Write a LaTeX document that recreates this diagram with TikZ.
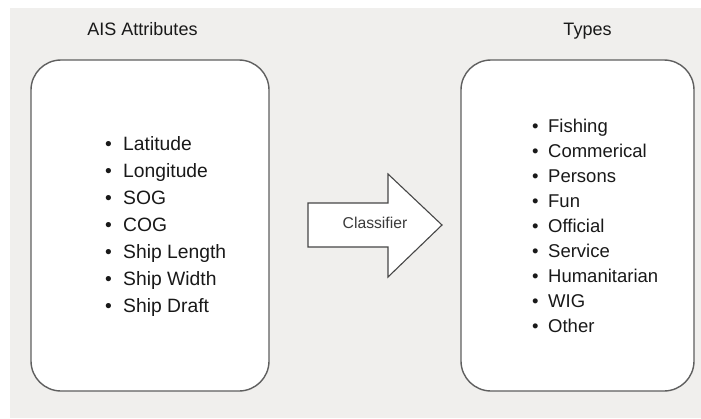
\documentclass[tikz,border=0pt]{standalone}
\usepackage{fontspec}
\setmainfont{Liberation Sans}
\begin{document}
\begin{tikzpicture}[x=1pt,y=-1pt,
  panel/.style={draw=boxline, line width=1.4pt, fill=white, rounded corners=30pt},
  heading/.style={font=\fontsize{18}{20}\selectfont, text=txt, inner sep=0pt, anchor=base},
  item/.style={font=\fontsize{18.5}{22}\selectfont, text=txt, inner sep=0pt, anchor=base west},
  bigitem/.style={item, font=\fontsize{19.3}{22}\selectfont},
  arrowshape/.style={draw=arrline, line width=1.1pt, fill=white, line join=miter}]
\definecolor{bg}{RGB}{240,239,237}
\definecolor{boxline}{RGB}{95,95,95}
\definecolor{arrline}{RGB}{70,70,70}
\definecolor{txt}{RGB}{25,25,25}
\useasboundingbox (0,0) rectangle (701,418);
% page background
\fill[white] (0,0) rectangle (701,418);
\fill[bg] (10,8) rectangle (701,418);

% headings
\node[heading] (tin) at (142.5,35) {AIS Attributes};
\node[heading] (tout) at (587.5,35) {Types};

% the two rounded panels
\draw[panel] (31,60) rectangle (269,391);
\draw[panel] (461,60) rectangle (694,391);

% classifier arrow
\draw[arrowshape] (308,203) -- (388,203) -- (388,174) -- (442,225)
  -- (388,277) -- (388,247) -- (308,247) -- cycle;
\node[font=\fontsize{15.7}{18}\selectfont, text=txt!85, inner sep=0pt] (clf) at (375,223) {Classifier};

% input attributes
\foreach \t [count=\i from 0] in {Latitude,Longitude,SOG,COG,Ship Length,Ship Width,Ship Draft}
  \node[bigitem] (a\i) at (105,150+27*\i) {\makebox[18pt][l]{\textbullet}\t};

% output types
\foreach \t [count=\i from 0] in {Fishing,Commerical,Persons,Fun,Official,Service,Humanitarian,WIG,Other}
  \node[item] (b\i) at (532,132+25*\i) {\makebox[16pt][l]{\textbullet}\t};
\end{tikzpicture}
\end{document}
